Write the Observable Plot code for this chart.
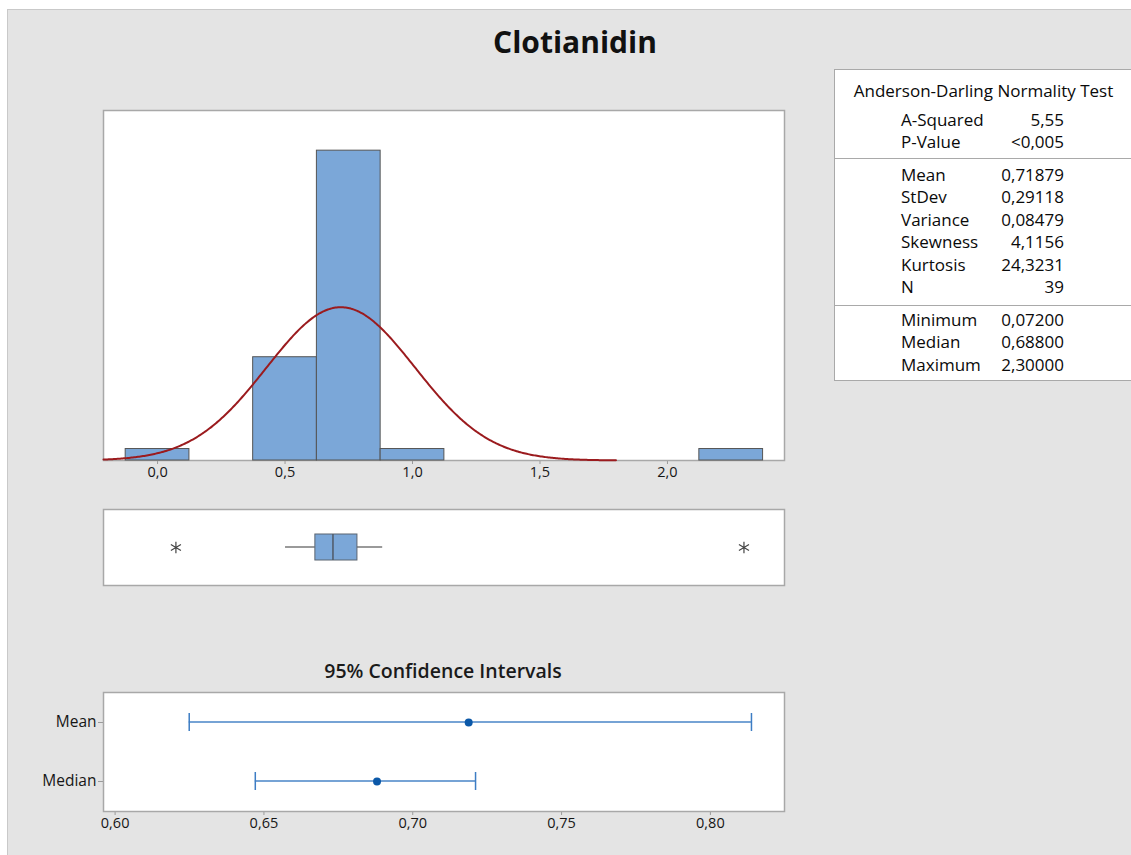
<!DOCTYPE html>
<html><head><meta charset="utf-8">
<script src="https://cdn.jsdelivr.net/npm/d3@7"></script>
<script src="https://cdn.jsdelivr.net/npm/@observablehq/plot@0.6"></script>
<style>
body{margin:0;background:#fff;font-family:"Open Sans",sans-serif;width:1131px;height:855px;overflow:hidden;position:relative;}
#bg{position:absolute;left:7px;top:9px;width:1124px;height:846px;background:#e4e4e4;border-left:1px solid #c9c9c9;border-top:1px solid #c9c9c9;}
.abs{position:absolute;}
#title{position:absolute;left:0;width:1150px;text-align:center;top:22px;font-size:30px;line-height:40px;font-weight:bold;color:#111;}
#cititle{position:absolute;left:243px;width:400px;text-align:center;top:658px;font-size:19.5px;line-height:26px;font-weight:600;color:#1a1a1a;}
#table{position:absolute;left:834px;top:69px;width:297px;height:312px;background:#fff;border:1px solid #a9a9a9;border-right:none;box-sizing:border-box;color:#0a0a0a;}
.row{position:absolute;height:22px;line-height:22px;font-size:17px;}
.sep{position:absolute;left:0;width:100%;height:0;border-top:1px solid #a9a9a9;}
svg [aria-label="x-axis tick"] path, svg [aria-label="y-axis tick"] path{stroke:#9a9a9a;}
svg [aria-label="x-axis tick label"] text{font-size:14.5px !important;fill:#161616;}
svg [aria-label="y-axis tick label"] text{font-size:15.5px !important;fill:#161616;}
</style></head>
<body>
<div id="bg"></div>
<div id="title">Clotianidin</div>
<div id="hist" class="abs" style="left:0;top:100px"></div>
<div id="box" class="abs" style="left:0;top:500px"></div>
<div id="cititle">95% Confidence Intervals</div>
<div id="ci" class="abs" style="left:0;top:680px"></div>
<div id="table"></div>
<script>
// ---- data ----
const binLow = [-0.125, 0.375, 0.625, 0.875, 2.125];
const binWidth = 0.25;
const binCounts = [1, 9, 27, 1, 1];
const histTicks = [0, 0.5, 1.0, 1.5, 2.0];

const statMean = 0.71879;
const statStDev = 0.29118;
const statN = 39;
const statMin = 0.072;
const statMax = 2.3;

const boxWhiskerLow = 0.502;
const boxQ1 = 0.619;
const boxMedian = 0.688;
const boxQ3 = 0.784;
const boxWhiskerHigh = 0.883;
const boxOutliers = [statMin, statMax];

const ciLabels = ["Mean", "Median"];
const ciLow = [0.6249, 0.6471];
const ciEst = [0.71879, 0.688];
const ciHigh = [0.8138, 0.7211];
const ciTicks = [0.60, 0.65, 0.70, 0.75, 0.80];

const adTitle = "Anderson-Darling Normality Test";
const adLabels = ["A-Squared", "P-Value"];
const adValues = ["5,55", "<0,005"];
const descLabels = ["Mean", "StDev", "Variance", "Skewness", "Kurtosis", "N"];
const descValues = ["0,71879", "0,29118", "0,08479", "4,1156", "24,3231", "39"];
const quantLabels = ["Minimum", "Median", "Maximum"];
const quantValues = ["0,07200", "0,68800", "2,30000"];

// ---- helpers ----
const fmt = (d, n) => d.toFixed(n).replace(".", ",");
const font = {background: "transparent", fontFamily: "Open Sans", color: "#111"};
const histDomain = [-0.212, 2.459];
const frameStyle = {fill: "white", stroke: "#a8a8a8", strokeWidth: 1.5};

// histogram table
const bins = binLow.map((lo, i) => ({x1: lo, x2: lo + binWidth, count: binCounts[i]}));
// fitted normal curve (scaled to counts) from the reported mean / stdev
const curve = d3.range(-0.212, 1.8, 0.005).map(x => ({
  x, y: statN * binWidth * Math.exp(-0.5 * ((x - statMean) / statStDev) ** 2) / (statStDev * Math.sqrt(2 * Math.PI))
}));

const hist = Plot.plot({
  width: 800, height: 390, marginLeft: 103, marginRight: 16, marginTop: 10, marginBottom: 30,
  style: font,
  x: {domain: histDomain, ticks: histTicks, tickFormat: d => fmt(d, 1), tickSize: 4, tickPadding: 2, label: null},
  y: {domain: [0, 30.5], axis: null},
  marks: [
    Plot.frame(frameStyle),
    Plot.rectY(bins, {x1: "x1", x2: "x2", y: "count", fill: "#7ba7d8", stroke: "#555", strokeWidth: 1}),
    Plot.line(curve, {x: "x", y: "y", stroke: "#9b1b1e", strokeWidth: 2})
  ]
});
document.getElementById("hist").appendChild(hist);

// boxplot
const boxRow = [{k: "box", wl: boxWhiskerLow, q1: boxQ1, med: boxMedian, q3: boxQ3, wh: boxWhiskerHigh}];
const outl = boxOutliers.map(v => ({k: "box", v}));
const boxPlot = Plot.plot({
  width: 800, height: 90, marginLeft: 103, marginRight: 16, marginTop: 9, marginBottom: 5,
  style: font,
  x: {domain: histDomain, axis: null},
  y: {type: "band", domain: ["box"], padding: 0.49, axis: null},
  marks: [
    Plot.frame(frameStyle),
    Plot.barX(boxRow, {x1: "wl", x2: "q1", y: "k", fill: "#9a9a9a", insetTop: 12, insetBottom: 12}),
    Plot.barX(boxRow, {x1: "q3", x2: "wh", y: "k", fill: "#9a9a9a", insetTop: 12, insetBottom: 12}),
    Plot.barX(boxRow, {x1: "q1", x2: "q3", y: "k", fill: "#7ba7d8", stroke: "#5b6470", strokeWidth: 1}),
    Plot.tickX(boxRow, {x: "med", y: "k", stroke: "#4f5966", strokeWidth: 1.5}),
    Plot.dot(outl, {x: "v", y: "k", symbol: "asterisk", r: 5.5, stroke: "#444", strokeWidth: 1.2})
  ]
});
document.getElementById("box").appendChild(boxPlot);

// confidence intervals
const ciRows = ciLabels.map((k, i) => ({k, lo: ciLow[i], est: ciEst[i], hi: ciHigh[i]}));
const ci = Plot.plot({
  width: 800, height: 160, marginLeft: 103, marginRight: 16, marginTop: 12, marginBottom: 29,
  style: font,
  x: {domain: [0.5961, 0.8249], ticks: ciTicks, tickFormat: d => fmt(d, 2), tickSize: 4, tickPadding: 2, label: null},
  y: {type: "band", domain: ciLabels, paddingInner: 0.7, paddingOuter: 0.344, tickSize: 5, tickPadding: 2, label: null},
  marks: [
    Plot.frame(frameStyle),
    Plot.barX(ciRows, {x1: "lo", x2: "hi", y: "k", fill: "#3d7dc4", insetTop: 8.3, insetBottom: 8.3}),
    Plot.tickX(ciRows, {x: "lo", y: "k", stroke: "#3d7dc4", strokeWidth: 1.5}),
    Plot.tickX(ciRows, {x: "hi", y: "k", stroke: "#3d7dc4", strokeWidth: 1.5}),
    Plot.dot(ciRows, {x: "est", y: "k", r: 4, fill: "#0b58a8"})
  ]
});
document.getElementById("ci").appendChild(ci);

// stats table
const tbl = document.getElementById("table");
function addRow(label, value, center) {
  const l = document.createElement("div");
  l.className = "row"; l.style.left = "66px"; l.style.top = (center - 11) + "px"; l.textContent = label;
  const v = document.createElement("div");
  v.className = "row"; v.style.right = (297 - 230) + "px"; v.style.top = (center - 11) + "px"; v.style.textAlign = "right"; v.textContent = value;
  tbl.appendChild(l); tbl.appendChild(v);
}
const h = document.createElement("div");
h.className = "row"; h.style.left = "0"; h.style.width = "297px"; h.style.textAlign = "center"; h.style.top = "10px";
h.textContent = adTitle; tbl.appendChild(h);
adLabels.forEach((l, i) => addRow(l, adValues[i], 49.5 + i * 22.3));
descLabels.forEach((l, i) => addRow(l, descValues[i], 105 + i * 22.4));
quantLabels.forEach((l, i) => addRow(l, quantValues[i], 250 + i * 22.4));
[87.5, 234.5].forEach(y => { const s = document.createElement("div"); s.className = "sep"; s.style.top = y + "px"; tbl.appendChild(s); });
</script>
</body></html>
